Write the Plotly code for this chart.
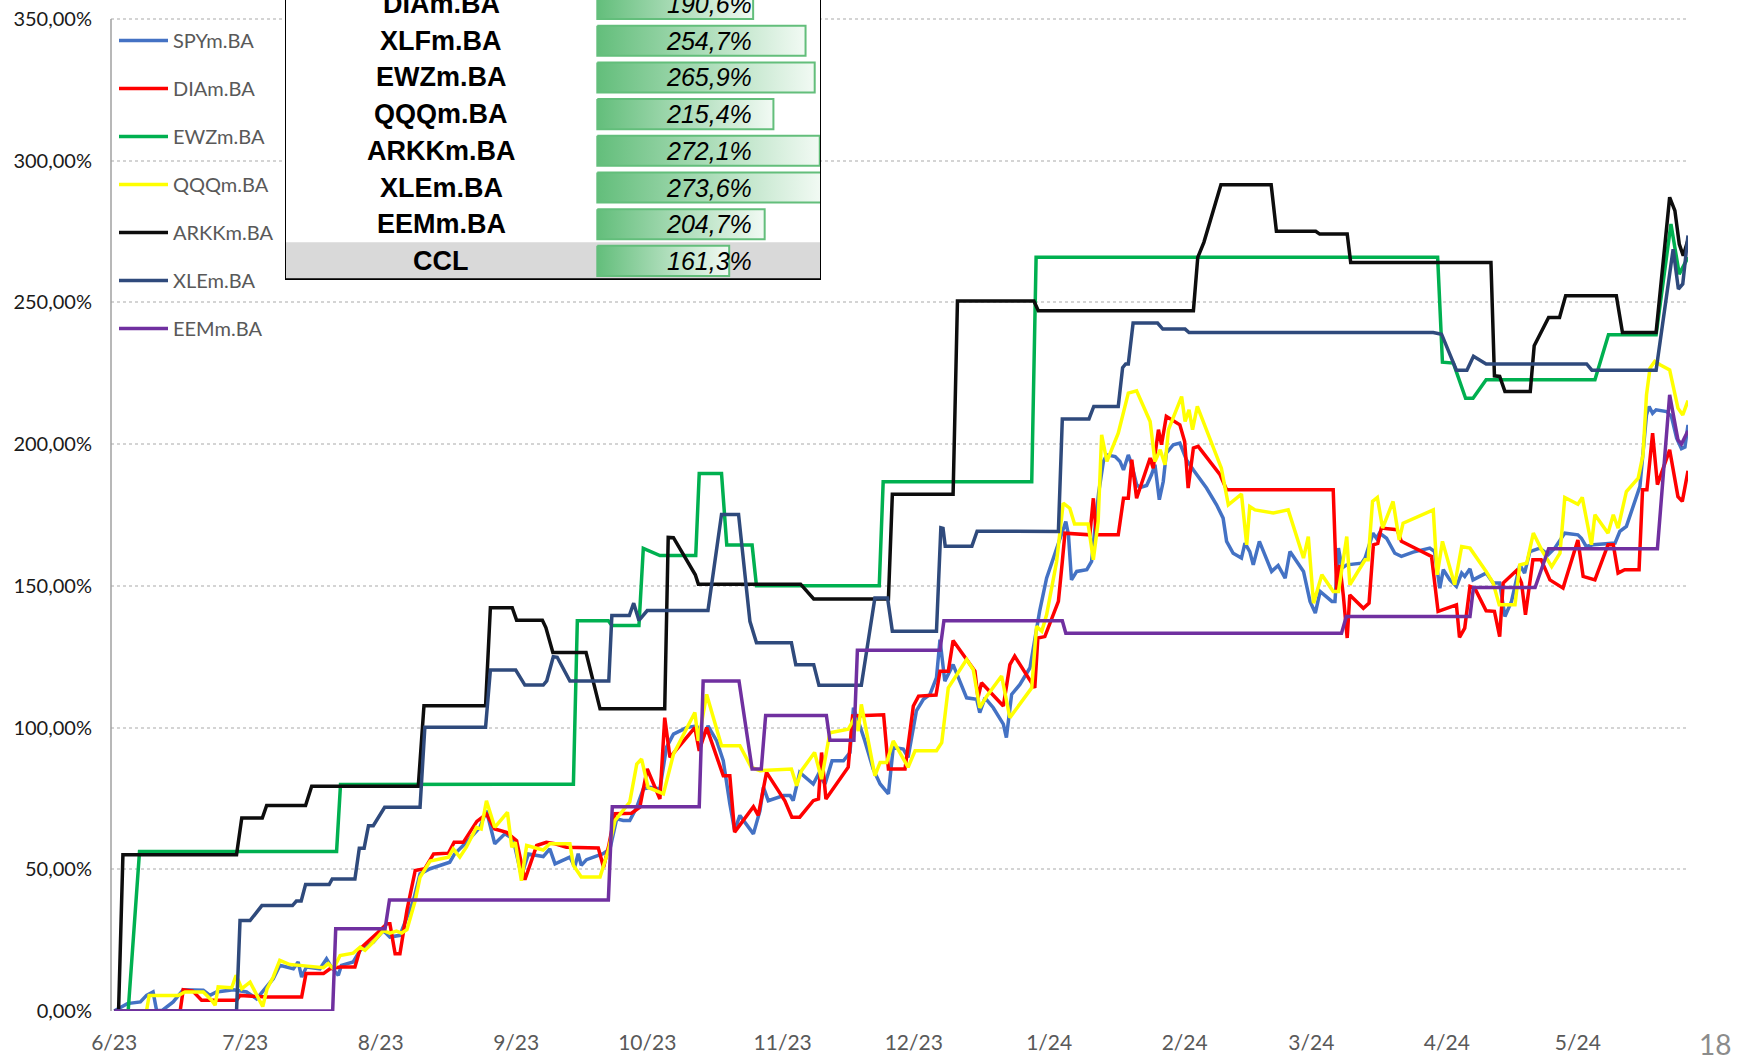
#!/usr/bin/env python3
import pandas as pd
import plotly.graph_objs as go

# days counted from 2023-06-01, values in % of cumulative return
start_date = pd.Timestamp('2023-06-01')

spy_day = [0, 3, 6, 7.4, 8.9, 9.7, 11, 13.5, 15.8, 20.4, 21.9, 23.4, 27.3, 30.3, 32.6, 35, 36.4, 37.9, 41, 42.1,
           42.9, 44, 47.1, 48.6, 49.7, 51.3, 52, 54.7, 56.3, 59.3, 61.6, 63.1, 65.4, 68.5, 70, 72.3, 76.8, 77.9,
           80.6, 83.7, 85.2, 87.1, 89.4, 91.3, 93.2, 94.8, 98.2, 99.7, 100.9, 104.3, 105.4, 106.2, 106.9, 108.1,
           111.9, 113.5, 115, 116.5, 118, 119.6, 121.1, 122.6, 124.9, 126.4, 128, 131, 133.3, 134.8, 135.9, 137.9,
           139.4, 140.9, 142, 143.2, 144.7, 146.3, 147.8, 148.6, 149.7, 153.2, 154.7, 155.4, 156.9, 160, 161.2,
           162.7, 164.3, 166.9, 168.4, 169.2, 170.3, 171.8, 173.7, 175.3, 177.2, 178.3, 180.6, 181.7, 183.6, 185.2,
           186.7, 188.2, 189, 190.1, 192, 193.6, 195.1, 197.4, 198.1, 199.3, 201.2, 203.5, 204.2, 205.4, 207.3,
           209.6, 211.8, 213.4, 215.7, 216.8, 217.8, 218.4, 219.1, 220.3, 222.6, 223.7, 224.5, 225.3, 226.4, 227.2,
           229.1, 230.2, 231, 232.1, 232.9, 234, 234.8, 236.3, 237.4, 238.2, 239.2, 240.1, 240.8, 242.4, 243.9,
           244.7, 245.4, 247, 250, 252.3, 253.8, 254.6, 256.1, 258, 258.8, 259.9, 260.7, 262.1, 264.9, 266.4, 268,
           269.1, 272.2, 273.7, 274.9, 276, 278.7, 279.4, 280.2, 281, 282.1, 285.5, 286.3, 288.1, 288.9, 289.6,
           291.2, 293.1, 294.6, 297.3, 301.1, 302.2, 303.4, 304.2, 305.7, 307.2, 308.4, 309.1, 310.3, 311, 314,
           315.6, 317.1, 318.3, 319.8, 321.7, 322.8, 324, 326.3, 328.2, 329.7, 332, 335, 335.8, 336.9, 338.5, 342.3,
           343.5, 344.6, 346.1, 349.2, 350.7, 351.3, 352.1, 352.9, 355.3, 356.4, 357.6, 358.7, 359.5, 360.2]
spy_val = [0, 2.6, 3.2, 5.5, 6.7, 0.2, 0.2, 3.2, 7.5, 7.3, 5.5, 6.7, 7.5, 6.7, 4.3, 9, 11.4, 16.1, 14.9, 17.3,
           12, 15.5, 14.9, 18.4, 15.5, 12.6, 16.1, 17.3, 21.4, 24.3, 28.4, 26.1, 26.7, 39, 48.4, 50.2, 52.5, 55.4,
           59.5, 64.8, 70.7, 59, 62.5, 60.7, 47.8, 55.4, 54.5, 57.2, 51.9, 54.3, 50.8, 55.5, 51.4, 53.4,
           55.5, 57.3, 67.8, 67.2, 67.2, 71.9, 78.3, 78.9, 78.3, 93, 97.7, 100, 100.6, 96.5, 100.6, 95.3,
           88.3, 73.1, 63.7, 69, 66, 62.5, 70.7, 78.9, 74.2, 76, 76, 74.2, 84.2, 80.1, 83.6,
           80.1, 88.3, 88.3, 91.2, 107, 102.3, 95.3, 85.4, 80.1, 76.6, 93, 92.4, 89.5, 105.9, 110,
           111.7, 117.6, 131, 116.4, 122.2, 116.4, 110.5, 110, 105.3, 110.5, 107, 101.2, 96.5, 111.7, 115.2,
           121.1, 141, 152.7, 163.3, 168, 172.7, 168, 152.1, 155.1, 155.7, 158.6, 170.4, 182.7, 193.9, 196.2,
           195.6, 193.9, 190.9, 196.2, 192.7, 185.7, 184.7, 185.4, 189.2, 192.7, 180.4, 186.8, 196.8, 199.8, 200.4,
           196.8, 194.5, 190.9, 184.5, 178.6, 173.9, 165.7, 161.5, 159.8, 165.1, 162.1, 157.4, 165.7, 155.1, 157.2, 152.7,
           162.1, 155.1, 144.5, 140.4, 148, 144.5, 144.5, 163.3, 156.3, 157.4, 158, 159.8, 168.6, 166.8, 168.6,
           166.8, 161.5, 160.4, 161.9, 163.3, 162.1, 149.2, 155.7, 152.1, 149.8, 154.5, 153.3, 156, 152.1, 154.5,
           151, 151, 139.2, 144.5, 157.4, 154.5, 162.1, 163.3, 161, 163.3, 168.6, 168, 166.8, 163.9, 164.5, 165.1,
           165.1, 169.2, 171, 185.1, 210.3, 213.3, 210.9, 212.1, 211.5, 209.8, 202.1, 198.4, 199, 206.8]

dia_day = [0, 15.1, 15.8, 18, 20, 28, 28.8, 35, 42.9, 43.9, 47.9, 49.4, 51.7, 55.1, 56.3, 58.5, 60.4, 62.4, 63.1,
           64.3, 65.4, 67, 68.9, 71.1, 73.1, 76.5, 77.8, 79.9, 83, 85.2, 87.1, 89.8, 92.1, 94, 96.7, 98.9, 100.9,
           103.5, 110.8, 112, 113.2, 114.6, 118.4, 120.3, 122, 124.9, 126, 127.2, 132.9, 133.9, 135.6, 139.4, 140.9,
           142, 146.3, 147.4, 149.3, 153.5, 155.1, 156.9, 160, 161.2, 161.9, 162.9, 168, 169, 176.1, 177.2, 181,
           182.9, 184.1, 188.1, 189, 190.9, 192, 197, 197.7, 198.5, 203.5, 205, 206.1, 210.7, 211.4, 213, 216.1,
           217, 217.6, 223.3, 224.1, 224.8, 229.8, 231, 232.1, 232.9, 234, 237.1, 237.8, 239, 239.7, 240.8, 242,
           243.9, 245, 245.8, 247, 248.1, 253.1, 254.6, 279, 279.8, 280.5, 281.3, 282.2, 282.8, 285.9, 287.2, 288.2,
           289.2, 290, 293.6, 294.6, 301.5, 303, 307.2, 307.9, 309.1, 310.3, 311.4, 314, 315.9, 317.1, 317.9, 320.9,
           322.1, 323, 324.7, 326.6, 328.6, 331.6, 335, 336.2, 338.9, 341.9, 343.1, 344.2, 345.7, 349, 349.8, 350.8,
           352.1, 353.2, 356, 357.9, 358.9, 360.2]
dia_val = [0, 0, 7.5, 7, 3.8, 3.8, 5.5, 4.9, 4.9, 13.2, 13.2, 14.9, 15.5, 15.5, 22, 24.9, 27.8, 30.8, 30.8,
           20.2, 20.2, 35.5, 49.6, 50.2, 55.4, 55.7, 59.5, 59.5, 66.9, 69.5, 64.2, 63, 60.1, 46.3, 58.4, 59.5, 59,
           57.8, 57.5, 50.7, 58.4, 69.6, 69.8, 71.9, 85.4, 74.8, 103.5, 89.5, 100, 91.8, 100, 83, 83,
           63.1, 72.1, 69, 84.2, 74.2, 68.4, 68.4, 74.2, 74.8, 91.2, 74.8, 86, 104.1, 104.5, 85.4, 85.4,
           107.6, 111.1, 111.5, 119.9, 119.9, 130.7, 119.9, 110.5, 115.8, 107.6, 122.2, 125.2, 114, 131.6, 132.1, 144.5,
           158.6, 168.6, 168, 180.9, 168, 168, 180.9, 180.9, 194.5, 180.9, 195.1, 191.5, 205.1, 199.8, 209.8, 208.6,
           206.8, 200.9, 184.5, 198.6, 199.2, 189.2, 183.9, 183.9, 148, 157.4, 146.8, 131.6, 146.8, 142.1, 143.9, 164.5,
           165, 170.4, 169.8, 165.7, 160.4, 141, 143.3, 131.8, 135.1, 149.8, 149.2, 141.2, 141, 132.1, 151, 155.3,
           151, 139.8, 159.2, 159.2, 152.1, 149.2, 166.2, 153.3, 152.1, 164.5, 164.5, 154.5, 155.7, 155.7, 183.9, 183.9,
           203.9, 185.7, 198, 181.5, 179.8, 190.6]

ewz_day = [0, 3.2, 5.8, 50.9, 51.8, 105.1, 106, 113.1, 113.9, 120.1, 121.1, 124.9, 133.1, 133.9, 139, 140.2,
           146, 147, 175.1, 176, 210, 211, 302.9, 304, 306.5, 307.5, 309.3, 311, 314, 338.9, 342, 352.9, 356.3,
           358.2, 360.2]
ewz_val = [0, 0, 56.3, 56.3, 79.9, 80, 137.7, 137.7, 136, 136, 163.2, 160.7, 160.7, 189.6, 189.6, 164.4,
           164.4, 150, 150, 186.7, 186.7, 265.9, 265.9, 228.9, 228.6, 223.9, 216.2, 216.2, 222.7, 222.7, 238.6,
           238.6, 277.7, 260, 265.9]

qqq_day = [0, 7.4, 8, 14.7, 16.2, 20.4, 22.3, 23.1, 23.8, 26.9, 27.9, 29.2, 31.1, 32.6, 34, 35, 36.4, 37.9, 40.2,
           42.5, 45.6, 47.9, 49, 50.2, 51.7, 54.7, 56.3, 57.4, 58.9, 61.6, 63.1, 64.6, 65.8, 67, 68.9, 70, 72.3,
           76.5, 77.6, 79.1, 80.6, 82.9, 84, 85.2, 87.1, 90, 91, 91.8, 93.2, 94.4, 98.2, 99.7, 104.3, 105.1, 106.9,
           111.2, 113.1, 114.6, 118, 119.6, 120.7, 122.2, 125.7, 128, 132.9, 133.7, 135.6, 139, 143.2, 145.8, 147.8,
           155, 156.2, 157.3, 160.3, 161.9, 163.8, 168, 169.5, 170.3, 171, 174.1, 175.3, 176.8, 178.3, 181.7, 183.3,
           188.2, 189.4, 190.9, 195.1, 196.6, 198.1, 199.7, 203.1, 205, 210, 211.1, 212.3, 213.4, 215.7, 217.2,
           218.7, 219.8, 222.9, 224.1, 225.2, 226, 227.2, 229.8, 232.1, 234, 237.1, 238.2, 239.4, 240.5, 241.3,
           244.3, 245.1, 246, 246.8, 247.9, 253.4, 255, 258, 259.2, 259.9, 261.1, 265.3, 268.7, 272.2, 273.3, 274.5,
           276.4, 279, 280.2, 282.1, 282.8, 286.3, 287, 288, 289.1, 290.3, 292.7, 294.1, 295, 301.9, 302.8, 304,
           306.8, 308.4, 310.3, 314, 315.6, 317, 320.6, 321.7, 323.3, 324.8, 326.7, 329, 330.9, 332, 335, 336,
           338.1, 338.9, 341.9, 343.1, 344.2, 346.1, 348.8, 349.9, 350.7, 351.5, 352.6, 353.8, 356, 357.9, 359,
           360.2]
qqq_val = [0, 0, 5.5, 5.5, 6.7, 6.7, 3.8, 2, 8.5, 8.2, 12.6, 7.9, 10.2, 5.5, 1.6, 7.9, 12, 17.9, 16.4,
           16.1, 15.5, 15.3, 16.7, 14.9, 19.6, 20.4, 22.5, 21.4, 23.7, 28.4, 27.5, 28.2, 27.5, 28.7, 39, 47.2, 52.9,
           54.3, 57.2, 54.3, 57.8, 64.8, 64.2, 74.2, 64.8, 70.1, 57.8, 59.5, 46, 58.4, 56.8, 59, 59, 51.4, 47.3,
           47.3, 56.7, 67.2, 73.7, 87.1, 88.9, 78.9, 76.6, 90.6, 105.3, 95.3, 111.7, 93.6, 93.6, 86, 84.8,
           85.4, 79.5, 84.8, 91.2, 81.8, 98.2, 99.4, 103.5, 98.8, 108.2, 83, 87.7, 87.7, 95.3, 86, 91.8,
           91.8, 94.7, 114, 124, 120.5, 107, 111.1, 118.2, 103.5, 114, 135.7, 134, 139.8, 158.6, 179.2,
           177.4, 171.8, 171.8, 159.2, 172.7, 203.3, 193.9, 203.9, 218, 218.8, 208, 193.9, 198, 192.7, 205.1,
           216.8, 208, 212.1, 205.1, 213.3, 191.5, 178.6, 182.4, 164.5, 178, 176.8, 175.7, 176.8, 159.8, 167.4, 143.9,
           153.9, 148, 148, 167.4, 150.4, 159.2, 159.2, 179.8, 181.2, 170.4, 179.8, 166.2, 172.1, 176.8, 153.9, 165.7,
           150.4, 163.9, 163.3, 155.1, 151, 143.3, 143.3, 157.4, 158, 168.6, 162.7, 156.8, 161.5, 181.2, 178.8, 181.2,
           164.5, 175.1, 168.6, 175.1, 170.4, 183.3, 188, 196.2, 217.4, 226.8, 229.2, 228, 226.2, 212.7, 210.3,
           215.4]

arkk_day = [0, 1, 2, 28, 29.2, 33.9, 34.9, 43.8, 45.2, 69.6, 70.9, 85, 86.1, 91.1, 92.1, 98, 98.8, 100.4, 108,
            111.2, 126, 126.8, 128, 133, 133.7, 157.1, 160.1, 177.2, 178.1, 192, 193, 210.5, 211.5, 247, 248,
            249.4, 253.3, 264.8, 266, 275, 275.9, 282.2, 283, 315.1, 315.9, 317.1, 318.3, 324.1, 325, 328.3, 330.8,
            332.2, 343.8, 345.2, 352.9, 356, 357.2, 358.2, 359.1, 360.2]
arkk_val = [0, 0, 55.1, 55.1, 68.1, 68.1, 72.5, 72.5, 79.3, 79.3, 107.7, 107.7, 142.3, 142.3, 137.9, 137.9,
            135.3, 126.5, 126.5, 106.6, 106.6, 167.1, 167, 153.9, 150.6, 150.6, 145.4, 145.4, 182.3, 182.3, 250.5,
            250.5, 247.1, 247.1, 265.9, 271.2, 291.5, 291.5, 275.1, 275.1, 274.1, 274.1, 264.1, 264.1, 224.1, 223.9,
            218.6, 218.6, 234.7, 244.7, 244.7, 252.4, 252.4, 239.4, 239.4, 287.1, 282.4, 270.6, 266.5, 272.1]

xle_day = [0, 28, 28.8, 31.1, 33.8, 40.8, 41.7, 42.8, 43.8, 49.2, 49.9, 55.1, 56.1, 57.2, 58.2, 59.3, 61.9, 70,
           71.1, 85, 86.1, 91.9, 94, 98.2, 99, 100.5, 101.4, 104.3, 113.2, 113.9, 117.9, 118.9, 120.1, 122, 135.9,
           139, 142.9, 145.5, 147, 155, 156, 160.1, 161.3, 171, 174.1, 177, 178.1, 188.2, 189.2, 189.7, 190.2,
           196.3, 197.5, 216.1, 217, 223.1, 224.2, 229.8, 230.8, 231.5, 232.1, 233.2, 238.8, 240, 245.1, 246,
           301.9, 303.8, 307.2, 309.6, 311.1, 314, 337, 338.2, 352.9, 356.8, 358, 359, 360.2]
xle_val = [0, 0, 31.9, 31.9, 37.2, 37.2, 38.8, 38.8, 44.6, 44.6, 46.6, 46.6, 57.4, 57.4, 65.4, 65.4, 71.9, 71.9,
           100.1, 100.1, 120.3, 120.3, 115, 115, 116.5, 125, 124.8, 116.4, 116.4, 139.5, 139.5, 143.9, 137.8, 141.3,
           141.3, 175.2, 175.2, 137.5, 129.9, 129.9, 122.2, 122.2, 114.9, 114.9, 145.7, 145.7, 134, 134, 170.5,
           170.3, 164, 164, 169.3, 169.2, 208.9, 208.9, 213.3, 213.3, 227, 228.3, 228.3, 242.7, 242.7, 240.6,
           240.6, 239.4, 239.4, 238.8, 226.1, 226.1, 231, 228.3, 228.3, 226.1, 226.1, 268.8, 254.7, 256.5, 273.6]

eem_day = [0, 50, 50.7, 62, 63, 113.1, 114, 133.9, 134.8, 143, 146, 148.1, 149.1, 163, 163.8, 169.3, 170.1, 189,
           189.9, 217, 217.8, 280.9, 282, 310.3, 311.1, 325.2, 328.3, 353.2, 356, 357.9, 358.7, 360.2]
eem_val = [0, 0, 29, 29, 39.2, 39.2, 72.1, 72.1, 116.4, 116.4, 85.4, 85.4, 104.3, 104.3, 95.5, 95.5, 127.3,
           127.3, 137.7, 137.7, 133.3, 133.3, 139.2, 139.2, 149.4, 149.4, 163.1, 163.1, 217.4, 201.5, 200, 204.7]

series_names = ['SPYm.BA', 'DIAm.BA', 'EWZm.BA', 'QQQm.BA', 'ARKKm.BA', 'XLEm.BA', 'EEMm.BA']
series_days = [spy_day, dia_day, ewz_day, qqq_day, arkk_day, xle_day, eem_day]
series_vals = [spy_val, dia_val, ewz_val, qqq_val, arkk_val, xle_val, eem_val]
series_colors = ['#4472C4', '#FF0000', '#00B050', '#FFFF00', '#0D0D0D', '#2F4A7C', '#7030A0']

# final-return table (the row above DIAm.BA is cut off in the source)
table_labels = ['DIAm.BA', 'XLFm.BA', 'EWZm.BA', 'QQQm.BA', 'ARKKm.BA', 'XLEm.BA', 'EEMm.BA', 'CCL']
table_values = [190.6, 254.7, 265.9, 215.4, 272.1, 273.6, 204.7, 161.3]

y_ticks = [0, 0.5, 1.0, 1.5, 2.0, 2.5, 3.0, 3.5]
page_number = '18'

W, H = 1738, 1060
ML, MR, MT, MB = 111, 50, 0, 49
plot_w = W - ML - MR
plot_h = H - MT - MB

fig = go.Figure()

for name, days, vals, color in zip(series_names, series_days, series_vals, series_colors):
    fig.add_trace(go.Scatter(
        x=start_date + pd.to_timedelta(days, unit='D'),
        y=[v / 100 for v in vals],
        mode='lines',
        name=name,
        legendgroup=name,
        line={'color': color, 'width': 3.5},
    ))

# ---- table drawn in its own little subplot ----
bar_max = max(table_values)
tx_left, tx_right = -382.0, bar_max
row_top, row_bottom = 0.89, 8.52
half = 0.41

fig.add_trace(go.Scatter(
    x=[tx_left, tx_right, tx_right, tx_left, tx_left],
    y=[row_top, row_top, row_bottom, row_bottom, row_top],
    fill='toself', fillcolor='white', mode='lines', line={'width': 0},
    xaxis='x2', yaxis='y2', showlegend=False, hoverinfo='skip',
))
ccl_row = len(table_labels)
fig.add_trace(go.Scatter(
    x=[tx_left, tx_right, tx_right, tx_left, tx_left],
    y=[ccl_row - 0.51, ccl_row - 0.51, row_bottom, row_bottom, ccl_row - 0.51],
    fill='toself', fillcolor='#D9D9D9', mode='lines', line={'width': 0},
    xaxis='x2', yaxis='y2', showlegend=False, hoverinfo='skip',
))

for k, (lab, val) in enumerate(zip(table_labels, table_values), start=1):
    fig.add_trace(go.Scatter(
        x=[0, val, val, 0, 0],
        y=[k - half, k - half, k + half, k + half, k - half],
        fill='toself',
        fillgradient={'type': 'horizontal',
                      'colorscale': [[0, '#63BE7B'], [1, '#F2FAF4']]},
        mode='lines', line={'color': '#63BE7B', 'width': 2},
        xaxis='x2', yaxis='y2', showlegend=False, hoverinfo='skip',
    ))
    fig.add_annotation(x=tx_left / 2, y=k, xref='x2', yref='y2', text=lab, showarrow=False,
                       font={'family': 'Liberation Sans, Arial', 'size': 27, 'color': 'black',
                             'weight': 'bold'})
    fig.add_annotation(x=bar_max / 2, y=k, xref='x2', yref='y2',
                       text=f'{val:.1f}%'.replace('.', ','), showarrow=False,
                       font={'family': 'Liberation Sans, Arial', 'size': 25, 'color': 'black',
                             'style': 'italic'})

# table borders
fig.add_shape(type='line', xref='x2', yref='y2', x0=tx_left, x1=tx_left, y0=row_top, y1=row_bottom,
              line={'color': 'black', 'width': 2})
fig.add_shape(type='line', xref='x2', yref='y2', x0=tx_right, x1=tx_right, y0=row_top, y1=row_bottom,
              line={'color': 'black', 'width': 2})
fig.add_shape(type='line', xref='x2', yref='y2', x0=tx_left, x1=tx_right, y0=row_bottom, y1=row_bottom,
              line={'color': 'black', 'width': 3.5})

# y axis line only from 0% to 350%
fig.add_shape(type='line', xref='paper', yref='y', x0=0, x1=0, y0=0, y1=y_ticks[-1],
              line={'color': '#A0A0A0', 'width': 1.5})

fig.add_annotation(x=(1715 - ML) / plot_w, y=(H - 1044 - MB) / plot_h, xref='paper', yref='paper',
                   xanchor='center', yanchor='middle',
                   text=page_number, showarrow=False,
                   font={'family': 'Lato', 'size': 28, 'color': '#8C8C8C'})

px_per_unit = 283.4  # pixels per 100%
fig.update_layout(
    width=W, height=H,
    margin={'l': ML, 'r': MR, 't': MT, 'b': MB},
    paper_bgcolor='white', plot_bgcolor='white',
    separators=',.',
    showlegend=True,
    legend={
        'x': 3 / plot_w, 'y': 1 - 21 / plot_h, 'xanchor': 'left', 'yanchor': 'top',
        'traceorder': 'grouped', 'tracegroupgap': 19,
        'font': {'family': 'Lato', 'size': 20, 'color': '#595959'},
        'bgcolor': 'rgba(0,0,0,0)', 'itemwidth': 49,
    },
    xaxis={
        'type': 'date',
        'range': [start_date - pd.Timedelta(hours=17.5), start_date + pd.Timedelta(days=360.2)],
        'dtick': 'M1', 'tick0': '2023-06-01', 'tickformat': '%-m/%y',
        'showgrid': False, 'zeroline': False, 'showline': False, 'ticks': '',
        'ticklabelstandoff': 17,
        'tickfont': {'family': 'Lato', 'size': 21, 'color': '#595959'},
    },
    yaxis={
        'range': [0, y_ticks[-1] + 19 / px_per_unit],
        'tickvals': y_ticks, 'tickformat': '.2%',
        'showgrid': True, 'gridcolor': '#D4D4D4', 'griddash': 'dot', 'gridwidth': 1.5,
        'zeroline': False, 'showline': False, 'ticks': '',
        'ticklabelstandoff': 18,
        'tickfont': {'family': 'Lato', 'size': 20, 'color': '#1A1A1A'},
    },
    xaxis2={
        'domain': [(285 - ML) / plot_w, (821 - ML) / plot_w],
        'range': [tx_left, tx_right], 'anchor': 'y2',
        'visible': False, 'fixedrange': True,
    },
    yaxis2={
        'domain': [(plot_h - 280) / plot_h, 1],
        'range': [row_bottom, row_top], 'anchor': 'x2',
        'visible': False, 'fixedrange': True,
    },
)

fig.write_html('out.html', config={'displayModeBar': False},
               post_script="document.body.style.margin='0';")
